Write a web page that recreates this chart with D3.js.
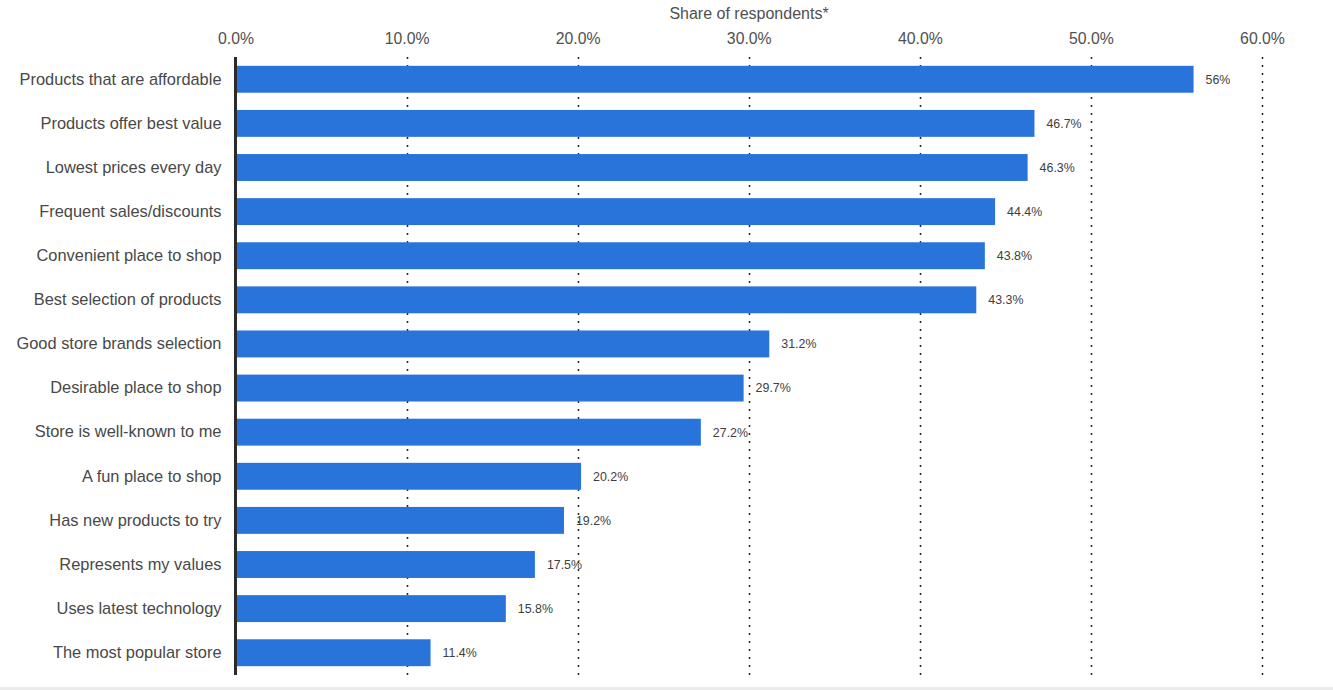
<!DOCTYPE html>
<html>
<head>
<meta charset="utf-8">
<script src="https://cdn.jsdelivr.net/npm/d3@7"></script>
<style>
  body { margin: 0; background: #fff; font-family: "Liberation Sans", Arial, sans-serif; }
  svg { display: block; }
</style>
</head>
<body>
<div id="chart"></div>
<script>
const categories = [
    "Products that are affordable",
    "Products offer best value",
    "Lowest prices every day",
    "Frequent sales/discounts",
    "Convenient place to shop",
    "Best selection of products",
    "Good store brands selection",
    "Desirable place to shop",
    "Store is well-known to me",
    "A fun place to shop",
    "Has new products to try",
    "Represents my values",
    "Uses latest technology",
    "The most popular store"
];
const values = [56, 46.7, 46.3, 44.4, 43.8, 43.3, 31.2, 29.7, 27.2, 20.2, 19.2, 17.5, 15.8, 11.4];
const valueLabels = ["56%", "46.7%", "46.3%", "44.4%", "43.8%", "43.3%", "31.2%", "29.7%", "27.2%", "20.2%", "19.2%", "17.5%", "15.8%", "11.4%"];
const xTicks = [0, 10, 20, 30, 40, 50, 60];
const axisTitle = "Share of respondents*";

const width = 1333, height = 690;
const plot = { left: 235.5, right: 1262, top: 57, bottom: 675 };
const fontFamily = '"Liberation Sans", Arial, sans-serif';

const svg = d3.select('#chart')
    .append('svg')
    .attr('width', width)
    .attr('height', height);

const x = d3.scaleLinear().domain([0, 60]).range([plot.left, plot.right]);
const y = d3.scaleBand()
    .domain(categories)
    .range([plot.top, plot.bottom])
    .paddingInner(0.39)
    .paddingOuter(0.2);

// bottom strip
svg.append('rect')
    .attr('x', 0).attr('y', 687)
    .attr('width', width).attr('height', 3)
    .attr('fill', '#ebebeb');

// title
svg.append('text')
    .attr('x', 749).attr('y', 18.5)
    .attr('text-anchor', 'middle')
    .attr('font-size', 16)
    .attr('fill', '#505050')
    .text(axisTitle);

// top axis labels + dotted grid
const xAxis = d3.axisTop(x)
    .tickValues(xTicks)
    .tickSize(0)
    .tickPadding(0)
    .tickFormat(d => d.toFixed(1) + '%');

const axisG = svg.append('g')
    .attr('transform', 'translate(0, 43.5)')
    .call(xAxis);
axisG.select('.domain').remove();
axisG.selectAll('text')
    .attr('font-family', fontFamily)
    .attr('font-size', 15.8)
    .attr('fill', '#505050');

svg.append('g')
    .selectAll('line')
    .data(xTicks.filter(d => d > 0))
    .enter()
    .append('line')
    .attr('x1', d => Math.round(x(d)) + 0.5)
    .attr('x2', d => Math.round(x(d)) + 0.5)
    .attr('y1', plot.top)
    .attr('y2', plot.bottom)
    .attr('stroke', '#222')
    .attr('stroke-width', 1.5)
    .attr('stroke-dasharray', '2,6');

// bars
svg.append('g')
    .selectAll('rect')
    .data(values)
    .enter()
    .append('rect')
    .attr('x', x(0))
    .attr('y', (d, i) => y(categories[i]))
    .attr('width', d => x(d) - x(0))
    .attr('height', y.bandwidth())
    .attr('fill', '#2874db');

// value labels
svg.append('g')
    .selectAll('text')
    .data(values)
    .enter()
    .append('text')
    .attr('x', d => x(d) + 12)
    .attr('y', (d, i) => y(categories[i]) + y.bandwidth() / 2)
    .attr('dy', '0.35em')
    .attr('font-size', 12.4)
    .attr('fill', '#404040')
    .text((d, i) => valueLabels[i]);

// category labels
const yAxis = d3.axisLeft(y).tickSize(0).tickPadding(14);
const yG = svg.append('g')
    .attr('transform', `translate(${plot.left}, 0)`)
    .call(yAxis);
yG.select('.domain').remove();
yG.selectAll('text')
    .attr('font-family', fontFamily)
    .attr('font-size', 16.4)
    .attr('fill', '#484848');

// baseline
svg.append('line')
    .attr('x1', plot.left).attr('x2', plot.left)
    .attr('y1', plot.top).attr('y2', plot.bottom)
    .attr('stroke', '#2b2b2b')
    .attr('stroke-width', 3);
</script>
</body>
</html>
